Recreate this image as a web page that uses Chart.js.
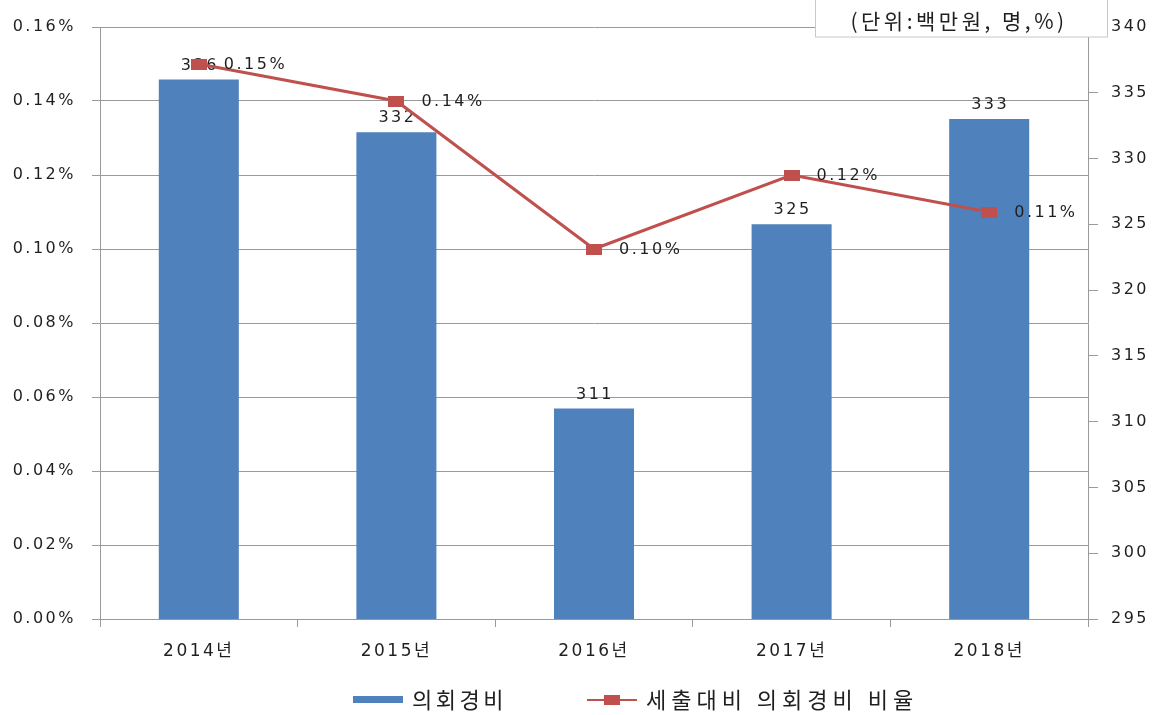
<!DOCTYPE html>
<html>
<head>
<meta charset="utf-8">
<script src="https://cdn.jsdelivr.net/npm/chart.js@4/dist/chart.umd.min.js"></script>
<style>
  body { margin: 0; background: #fff; }
  #wrap { width: 1161px; height: 715px; }
</style>
</head>
<body>
<div id="wrap"><canvas id="chart" width="1161" height="715"></canvas></div>
<script>
const years = ['2014년', '2015년', '2016년', '2017년', '2018년'];
const costs = [336, 332, 311, 325, 333];
const ratios = [0.15, 0.14, 0.10, 0.12, 0.11];
const costName = '의회경비';
const ratioName = '세출대비 의회경비 비율';
const unitText = '(단위:백만원, 명,%)';

const BLUE = '#4F81BD';
const RED = '#C0504D';
const GRID = '#9a9a9a';
const TEXT = '#1f1f1f';
const FONT = '"DejaVu Sans", "Noto Sans CJK KR", sans-serif';
const KFONT = '"Noto Sans CJK KR", "DejaVu Sans", sans-serif';

// flat square marker like the excel one
function makeMarker(w, h) {
  const c = document.createElement('canvas');
  c.width = w; c.height = h;
  const g = c.getContext('2d');
  g.fillStyle = RED;
  g.fillRect(0, 0, w, h);
  return c;
}
const marker = makeMarker(16, 11);

const spacing = {
  id: 'spacing',
  beforeLayout(chart) { chart.ctx.letterSpacing = '2.5px'; },
  beforeDraw(chart) { chart.ctx.letterSpacing = '2.5px'; }
};

const extras = {
  id: 'extras',
  afterDatasetDraw(chart, args) {
    if (args.index !== 0) return;
    const ctx = chart.ctx;
    ctx.save();
    ctx.letterSpacing = '2.5px';
    ctx.font = '16px ' + FONT;
    ctx.fillStyle = TEXT;
    ctx.textAlign = 'center';
    ctx.textBaseline = 'middle';
    args.meta.data.forEach((bar, i) => {
      ctx.fillText(String(costs[i]), bar.x + 1, bar.y - 14);
    });
    ctx.restore();
  },
  afterDatasetsDraw(chart) {
    const ctx = chart.ctx;
    const meta = chart.getDatasetMeta(1);
    ctx.save();
    ctx.letterSpacing = '2.5px';
    ctx.font = '16px ' + FONT;
    ctx.fillStyle = TEXT;
    ctx.textAlign = 'left';
    ctx.textBaseline = 'middle';
    meta.data.forEach((pt, i) => {
      ctx.fillText(ratios[i].toFixed(2) + '%', pt.x + 25, pt.y + 1);
    });
    ctx.restore();
  },
  afterDraw(chart) {
    const ctx = chart.ctx;
    ctx.save();

    // unit box
    ctx.fillStyle = '#fff';
    ctx.fillRect(815, 0, 293, 37);
    ctx.strokeStyle = '#c8c8c8';
    ctx.lineWidth = 1;
    ctx.strokeRect(815.5, -1, 292, 38);
    ctx.letterSpacing = '3.5px';
    ctx.font = '21px ' + KFONT;
    ctx.fillStyle = TEXT;
    ctx.textAlign = 'center';
    ctx.textBaseline = 'middle';
    ctx.fillText(unitText, 959, 21);

    // legend
    const ly = 700;
    let x = 353;
    ctx.fillStyle = BLUE;
    ctx.fillRect(x, ly - 4, 50, 7);
    x += 59;
    ctx.letterSpacing = '3.5px';
    ctx.font = '22px ' + KFONT;
    ctx.textAlign = 'left';
    ctx.fillStyle = TEXT;
    ctx.fillText(costName, x, ly);
    x += ctx.measureText(costName).width + 80;
    ctx.strokeStyle = RED;
    ctx.lineWidth = 2;
    ctx.beginPath();
    ctx.moveTo(x, ly);
    ctx.lineTo(x + 50, ly);
    ctx.stroke();
    ctx.fillStyle = RED;
    ctx.fillRect(x + 17, ly - 5, 16, 10);
    x += 59;
    ctx.fillStyle = TEXT;
    ctx.letterSpacing = '5px';
    ctx.fillText(ratioName, x, ly);
    ctx.restore();
  }
};

new Chart(document.getElementById('chart'), {
  data: {
    labels: years,
    datasets: [
      {
        type: 'bar',
        label: costName,
        data: costs,
        yAxisID: 'y1',
        backgroundColor: BLUE,
        barPercentage: 0.405,
        categoryPercentage: 1,
        order: 2
      },
      {
        type: 'line',
        label: ratioName,
        data: ratios,
        yAxisID: 'y',
        borderColor: RED,
        borderWidth: 3,
        pointStyle: marker,
        pointRadius: 8,
        tension: 0,
        order: 1
      }
    ]
  },
  options: {
    responsive: false,
    animation: false,
    devicePixelRatio: 1,
    layout: { padding: { top: 27, left: 0, right: 0, bottom: 0 } },
    plugins: {
      legend: { display: false },
      tooltip: { enabled: false }
    },
    scales: {
      x: {
        grid: { drawOnChartArea: false, drawTicks: true, tickLength: 8, color: GRID, offset: true },
        border: { color: GRID },
        ticks: { font: { family: FONT, size: 17 }, color: TEXT, padding: 14, maxRotation: 0, autoSkip: false },
        afterFit(scale) { scale.height = 96; }
      },
      y: {
        position: 'left',
        min: 0,
        max: 0.16,
        ticks: {
          stepSize: 0.02,
          font: { family: FONT, size: 16 },
          color: TEXT,
          padding: 16,
          callback: v => v.toFixed(2) + '%'
        },
        grid: { color: GRID, tickLength: 8 },
        border: { color: GRID },
        afterFit(scale) { scale.width = 100; }
      },
      y1: {
        position: 'right',
        min: 295,
        max: 340,
        ticks: { stepSize: 5, font: { family: FONT, size: 16 }, color: TEXT, padding: 13 },
        grid: { drawOnChartArea: false, tickLength: 10, color: GRID },
        border: { color: GRID },
        afterFit(scale) { scale.width = 73; }
      }
    }
  },
  plugins: [spacing, extras]
});
</script>
</body>
</html>
